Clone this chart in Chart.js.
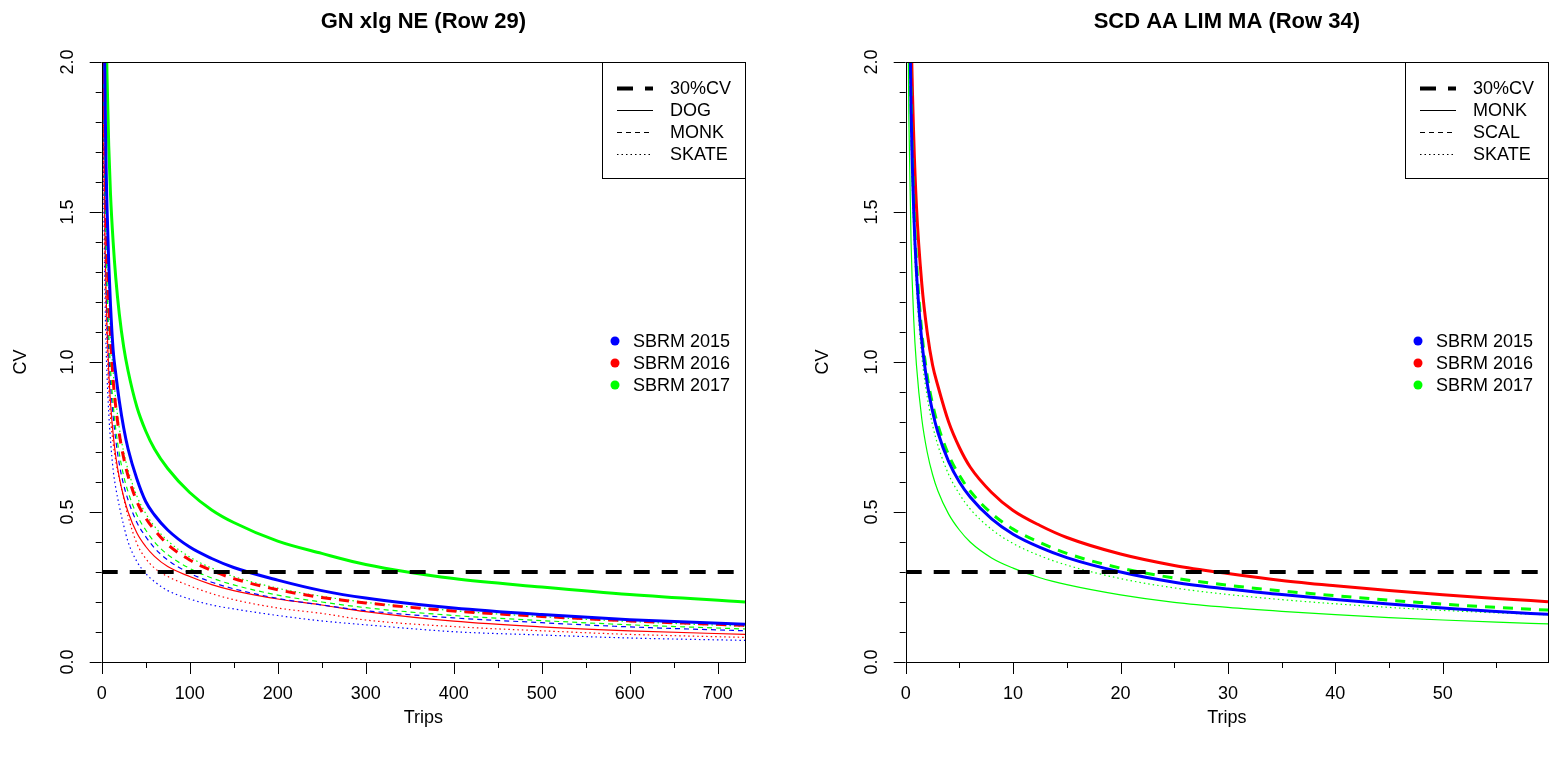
<!DOCTYPE html>
<html>
<head>
<meta charset="utf-8">
<script src="https://cdn.jsdelivr.net/npm/chart.js@4.4.0/dist/chart.umd.min.js"></script>
<style>
  html, body { margin: 0; padding: 0; background: #fff; }
  #wrap { position: relative; width: 1558px; height: 759px; overflow: hidden; }
  canvas { position: absolute; top: 0; }
</style>
</head>
<body>
<div id="wrap">
  <canvas id="leftChart" width="779" height="759" style="left:0px"></canvas>
  <canvas id="rightChart" width="779" height="759" style="left:779px"></canvas>
</div>
<script>
// ---- data ----
const cvTarget = 0.3;

// left panel: GN xlg NE (Row 29)
const tripsLeft = [1, 2, 3, 4, 5, 6, 8, 10, 13, 16, 20, 25, 30, 40, 50, 60, 75, 100, 125, 150, 200, 250, 300, 400, 500, 600, 731];
const dog2015 = [3.6, 2.6, 2.12, 1.84, 1.65, 1.52, 1.33, 1.19, 1.04, 0.96, 0.87, 0.78, 0.71, 0.61, 0.535, 0.49, 0.44, 0.383, 0.345, 0.315, 0.273, 0.238, 0.213, 0.18, 0.158, 0.141, 0.126];
const dog2016 = [2.7, 1.92, 1.57, 1.37, 1.23, 1.12, 0.97, 0.865, 0.76, 0.685, 0.615, 0.55, 0.5, 0.43, 0.385, 0.352, 0.318, 0.285, 0.258, 0.238, 0.21, 0.19, 0.168, 0.136, 0.117, 0.104, 0.092];
const dog2017 = [4.6, 3.3, 2.72, 2.38, 2.14, 1.96, 1.72, 1.56, 1.4, 1.28, 1.16, 1.05, 0.97, 0.85, 0.77, 0.71, 0.645, 0.565, 0.507, 0.465, 0.403, 0.362, 0.325, 0.278, 0.25, 0.225, 0.2];
const monk2015 = [2.95, 2.09, 1.7, 1.48, 1.32, 1.2, 1.04, 0.93, 0.82, 0.74, 0.66, 0.59, 0.54, 0.465, 0.418, 0.38, 0.34, 0.296, 0.266, 0.244, 0.212, 0.19, 0.171, 0.147, 0.131, 0.117, 0.104];
const monk2016 = [3.4, 2.4, 1.96, 1.7, 1.52, 1.39, 1.2, 1.08, 0.94, 0.85, 0.76, 0.68, 0.62, 0.535, 0.48, 0.44, 0.392, 0.34, 0.305, 0.278, 0.241, 0.215, 0.197, 0.17, 0.152, 0.137, 0.122];
const monk2017 = [3.1, 2.19, 1.79, 1.55, 1.39, 1.27, 1.1, 0.98, 0.86, 0.775, 0.695, 0.62, 0.567, 0.49, 0.44, 0.4, 0.358, 0.312, 0.28, 0.257, 0.223, 0.2, 0.181, 0.155, 0.138, 0.124, 0.11];
const skate2015 = [2.4, 1.68, 1.38, 1.18, 1.05, 0.96, 0.83, 0.74, 0.64, 0.58, 0.52, 0.455, 0.4, 0.335, 0.295, 0.268, 0.238, 0.21, 0.19, 0.177, 0.155, 0.137, 0.124, 0.101, 0.09, 0.08, 0.072];
const skate2016 = [2.6, 1.83, 1.5, 1.3, 1.16, 1.06, 0.915, 0.815, 0.73, 0.67, 0.61, 0.545, 0.485, 0.395, 0.345, 0.313, 0.285, 0.254, 0.228, 0.208, 0.18, 0.162, 0.14, 0.118, 0.104, 0.092, 0.082];
const skate2017 = [3.5, 2.47, 2.02, 1.75, 1.56, 1.43, 1.24, 1.1, 0.97, 0.875, 0.78, 0.7, 0.64, 0.553, 0.495, 0.452, 0.404, 0.35, 0.313, 0.285, 0.246, 0.219, 0.199, 0.171, 0.151, 0.135, 0.119];

// right panel: SCD AA LIM MA (Row 34)
const tripsRight = [0.1, 0.2, 0.3, 0.5, 0.75, 1, 1.5, 2, 2.5, 3, 4, 5, 6, 8, 10, 12.5, 15, 20, 25, 30, 35, 40, 45, 50, 55, 59.8];
const monkR2015 = [4.1, 2.9, 2.37, 1.84, 1.5, 1.3, 1.07, 0.93, 0.835, 0.765, 0.668, 0.6, 0.55, 0.477, 0.426, 0.382, 0.348, 0.3, 0.266, 0.243, 0.225, 0.208, 0.193, 0.18, 0.168, 0.159];
const monkR2016 = [4.7, 3.4, 2.78, 2.13, 1.75, 1.52, 1.26, 1.1, 0.99, 0.92, 0.8, 0.715, 0.65, 0.565, 0.505, 0.455, 0.415, 0.36, 0.322, 0.295, 0.272, 0.254, 0.238, 0.224, 0.212, 0.201];
const monkR2017 = [3.1, 2.2, 1.8, 1.4, 1.14, 0.99, 0.81, 0.7, 0.625, 0.57, 0.493, 0.44, 0.4, 0.347, 0.313, 0.281, 0.258, 0.224, 0.199, 0.182, 0.169, 0.158, 0.148, 0.14, 0.133, 0.127];
const scalR2017 = [4.2, 2.97, 2.42, 1.88, 1.54, 1.34, 1.1, 0.955, 0.86, 0.79, 0.69, 0.622, 0.57, 0.495, 0.443, 0.398, 0.362, 0.313, 0.28, 0.256, 0.237, 0.221, 0.206, 0.193, 0.182, 0.173];
const skateR2017 = [3.9, 2.78, 2.27, 1.76, 1.44, 1.25, 1.02, 0.885, 0.79, 0.722, 0.625, 0.56, 0.51, 0.442, 0.395, 0.354, 0.323, 0.278, 0.247, 0.225, 0.208, 0.194, 0.182, 0.172, 0.164, 0.157];

// axes / ticks
const yMajor = [0, 0.5, 1, 1.5, 2];
const yMinor = [0.1, 0.2, 0.3, 0.4, 0.6, 0.7, 0.8, 0.9, 1.1, 1.2, 1.3, 1.4, 1.6, 1.7, 1.8, 1.9];
const xMajorLeft = [0, 100, 200, 300, 400, 500, 600, 700];
const xMinorLeft = [50, 150, 250, 350, 450, 550, 650];
const xMajorRight = [0, 10, 20, 30, 40, 50];
const xMinorRight = [5, 15, 25, 35, 45, 55];

// legends
const yearLabels = ["SBRM 2015", "SBRM 2016", "SBRM 2017"];
const yearColors = ["#0000ff", "#ff0000", "#00ff00"];
const speciesLeft = ["30%CV", "DOG", "MONK", "SKATE"];
const speciesRight = ["30%CV", "MONK", "SCAL", "SKATE"];

Chart.defaults.font.family = "'Liberation Sans', Arial, sans-serif";
Chart.defaults.color = "#000";

const FONT = "'Liberation Sans', Arial, sans-serif";
const DASH_THIN = [5, 4];
const DOT_THIN = [1.5, 3];
const DASH_THICK = [10, 8];
const DASH_TARGET = [16, 12];

function pts(xs, ys) {
    return xs.map((x, i) => ({ x: x, y: ys[i] }));
}

function line(xs, ys, color, width, dash) {
    return {
        data: pts(xs, ys),
        borderColor: color,
        borderWidth: width,
        borderDash: dash || [],
        pointRadius: 0,
        cubicInterpolationMode: "monotone",
        clip: 0,
    };
}

function targetLine(xmax) {
    return {
        data: [{ x: 0, y: cvTarget }, { x: xmax, y: cvTarget }],
        borderColor: "#000",
        borderWidth: 4,
        borderDash: DASH_TARGET,
        pointRadius: 0,
        clip: 0,
    };
}

// frame, ticks, title and the two R-style legends
const rFrame = {
    id: "rFrame",
    afterDraw(chart, args, o) {
        const ctx = chart.ctx;
        const a = chart.chartArea;
        const xs = chart.scales.x;
        const ys = chart.scales.y;
        ctx.save();
        ctx.strokeStyle = "#000";
        ctx.lineWidth = 1;
        ctx.setLineDash([]);
        ctx.strokeRect(Math.round(a.left) + 0.5, Math.round(a.top) + 0.5, Math.round(a.right - a.left), Math.round(a.bottom - a.top));

        ctx.beginPath();
        o.xMajor.forEach((v) => { const p = Math.round(xs.getPixelForValue(v)) + 0.5; ctx.moveTo(p, a.bottom); ctx.lineTo(p, a.bottom + 12); });
        o.xMinor.forEach((v) => { const p = Math.round(xs.getPixelForValue(v)) + 0.5; ctx.moveTo(p, a.bottom); ctx.lineTo(p, a.bottom + 6); });
        yMajor.forEach((v) => { const p = Math.round(ys.getPixelForValue(v)) + 0.5; ctx.moveTo(a.left, p); ctx.lineTo(a.left - 12, p); });
        yMinor.forEach((v) => { const p = Math.round(ys.getPixelForValue(v)) + 0.5; ctx.moveTo(a.left, p); ctx.lineTo(a.left - 6, p); });
        ctx.stroke();

        // title
        ctx.fillStyle = "#000";
        ctx.font = "bold 22px " + FONT;
        ctx.textAlign = "center";
        ctx.textBaseline = "middle";
        ctx.fillText(o.title, (a.left + a.right) / 2, 22);

        // line-type legend (boxed, top right)
        const bx = a.right - 143;
        ctx.strokeRect(Math.round(bx) + 0.5, Math.round(a.top) + 0.5, Math.round(a.right - bx), 116);
        ctx.font = "18px " + FONT;
        ctx.textAlign = "left";
        const rows = [88, 110, 132, 154];
        const styles = [
            { w: 4, d: DASH_TARGET },
            { w: 1, d: [] },
            { w: 1, d: DASH_THIN },
            { w: 1, d: DOT_THIN },
        ];
        o.species.forEach((lab, i) => {
            const y = rows[i];
            ctx.beginPath();
            ctx.lineWidth = styles[i].w;
            ctx.setLineDash(styles[i].d);
            ctx.moveTo(a.right - 128, y + 0.5);
            ctx.lineTo(a.right - 92, y + 0.5);
            ctx.stroke();
            ctx.fillText(lab, a.right - 75, y + 1);
        });
        ctx.setLineDash([]);

        // year legend (no box)
        const yrRows = [341, 363, 385];
        yearLabels.forEach((lab, i) => {
            ctx.fillStyle = yearColors[i];
            ctx.beginPath();
            ctx.arc(a.right - 130, yrRows[i], 4.5, 0, Math.PI * 2);
            ctx.fill();
            ctx.fillStyle = "#000";
            ctx.fillText(lab, a.right - 112, yrRows[i] + 1);
        });
        ctx.restore();
    },
};

function makeChart(id, cfg) {
    return new Chart(document.getElementById(id).getContext("2d"), {
        type: "line",
        data: { datasets: cfg.datasets },
        plugins: [rFrame],
        options: {
            responsive: false,
            animation: false,
            devicePixelRatio: 1,
            layout: { padding: { left: 0, right: cfg.padRight, top: 62, bottom: 0 } },
            plugins: {
                legend: { display: false },
                tooltip: { enabled: false },
                rFrame: { title: cfg.title, species: cfg.species, xMajor: cfg.xMajor, xMinor: cfg.xMinor },
            },
            scales: {
                x: {
                    type: "linear",
                    min: 0,
                    max: cfg.xmax,
                    grid: { display: false },
                    border: { display: false },
                    ticks: { font: { size: 18 }, padding: 13, maxRotation: 0, color: "#000" },
                    afterBuildTicks: (s) => { s.ticks = cfg.xMajor.map((v) => ({ value: v })); },
                    afterFit: (s) => { s.height = 97; },
                    title: { display: true, text: "Trips", font: { size: 18 }, padding: { top: 0, bottom: 30 }, color: "#000" },
                },
                y: {
                    type: "linear",
                    min: 0,
                    max: 2,
                    grid: { display: false },
                    border: { display: false },
                    ticks: {
                        font: { size: 18 },
                        minRotation: 90,
                        maxRotation: 90,
                        crossAlign: "center",
                        padding: 13,
                        color: "#000",
                        callback: (v) => Number(v).toFixed(1),
                    },
                    afterBuildTicks: (s) => { s.ticks = yMajor.map((v) => ({ value: v })); },
                    afterFit: (s) => { s.width = cfg.yWidth; },
                    title: { display: true, text: "CV", font: { size: 18 }, padding: { top: cfg.cvPad, bottom: 0 }, color: "#000" },
                },
            },
        },
    });
}

makeChart("leftChart", {
    title: "GN xlg NE (Row 29)",
    species: speciesLeft,
    xMajor: xMajorLeft,
    xMinor: xMinorLeft,
    xmax: 731,
    padRight: 34,
    yWidth: 101.7,
    cvPad: 10,
    datasets: [
        targetLine(731),
        line(tripsLeft, dog2015, "#0000ff", 3),
        line(tripsLeft, monk2016, "#ff0000", 3, DASH_THICK),
        line(tripsLeft, dog2017, "#00ff00", 3),
        line(tripsLeft, skate2017, "#00ff00", 1.2, DOT_THIN),
        line(tripsLeft, monk2017, "#00ff00", 1.2, DASH_THIN),
        line(tripsLeft, monk2015, "#0000ff", 1.2, DASH_THIN),
        line(tripsLeft, dog2016, "#ff0000", 1.2),
        line(tripsLeft, skate2016, "#ff0000", 1.2, DOT_THIN),
        line(tripsLeft, skate2015, "#0000ff", 1.2, DOT_THIN),
    ],
});

makeChart("rightChart", {
    title: "SCD AA LIM MA (Row 34)",
    species: speciesRight,
    xMajor: xMajorRight,
    xMinor: xMinorRight,
    xmax: 59.8,
    padRight: 10,
    yWidth: 126.7,
    cvPad: 33,
    datasets: [
        targetLine(59.8),
        line(tripsRight, monkR2015, "#0000ff", 3),
        line(tripsRight, scalR2017, "#00ff00", 3, DASH_THICK),
        line(tripsRight, monkR2016, "#ff0000", 3),
        line(tripsRight, skateR2017, "#00ff00", 1.2, DOT_THIN),
        line(tripsRight, monkR2017, "#00ff00", 1.2),
    ],
});
</script>
</body>
</html>
